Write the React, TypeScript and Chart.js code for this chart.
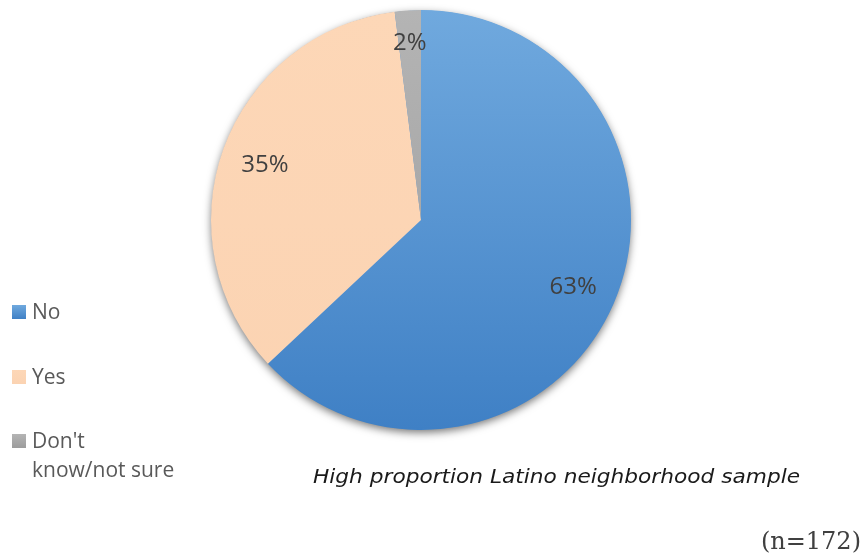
import React, { useEffect, useRef } from 'react';
import { Chart, registerables } from 'chart.js';

Chart.register(...registerables);

const categories = ['No', 'Yes', "Don't know/not sure"];
const values = [63, 35, 2];
const valueLabels = ['63%', '35%', '2%'];
const legendLines = [['No'], ['Yes'], ["Don't", 'know/not sure']];
const caption = 'High proportion Latino neighborhood sample';
const sampleNote = '(n=172)';

const topColors = ['#70a9de', '#fdd7b7', '#b4b4b4'];
const bottomColors = ['#3f80c5', '#fbd3b2', '#9c9c9c'];

function fillFor(chart: any, i: number) {
  const area = chart.chartArea;
  if (!area) return topColors[i];
  const g = chart.ctx.createLinearGradient(0, area.top, 0, area.bottom);
  g.addColorStop(0, topColors[i]);
  g.addColorStop(1, bottomColors[i]);
  return g;
}

const shadowPlugin = {
  id: 'pieShadow',
  beforeDatasetsDraw(chart: any) {
    const meta = chart.getDatasetMeta(0);
    const arc = meta.data[0];
    if (!arc) return;
    const { x, y, outerRadius } = arc.getProps(['x', 'y', 'outerRadius'], true);
    const ctx = chart.ctx;
    ctx.save();
    ctx.shadowColor = 'rgba(0,0,0,0.55)';
    ctx.shadowBlur = 8;
    ctx.shadowOffsetX = 0;
    ctx.shadowOffsetY = 3;
    ctx.beginPath();
    ctx.arc(x, y, outerRadius - 0.5, 0, Math.PI * 2);
    ctx.fillStyle = '#5a97d6';
    ctx.fill();
    ctx.restore();
  },
};

const labelFractions = [0.79, 0.79, 0.85];

function fitText(ctx: any, text: string, x: number, y: number, target: number) {
  const w = ctx.measureText(text).width;
  ctx.save();
  ctx.translate(x, y);
  ctx.scale(target / w, 1);
  ctx.fillText(text, 0, 0);
  ctx.restore();
}

const decorPlugin = {
  id: 'decor',
  afterDraw(chart: any) {
    const ctx = chart.ctx;
    const meta = chart.getDatasetMeta(0);
    ctx.save();
    // value labels
    ctx.font = '24px "Open Sans"';
    ctx.fillStyle = '#404040';
    ctx.textAlign = 'center';
    ctx.textBaseline = 'middle';
    meta.data.forEach((arc: any, i: number) => {
      const p = arc.getProps(['x', 'y', 'startAngle', 'endAngle', 'outerRadius'], true);
      const mid = (p.startAngle + p.endAngle) / 2;
      const d = p.outerRadius * labelFractions[i];
      ctx.fillText(valueLabels[i], p.x + Math.cos(mid) * d, p.y + Math.sin(mid) * d + 1);
    });

    // legend
    const baselines = [319, 384, 448];
    ctx.textAlign = 'left';
    ctx.textBaseline = 'alphabetic';
    ctx.font = '21px "Open Sans"';
    categories.forEach((_c, i) => {
      const b = baselines[i];
      const g = ctx.createLinearGradient(0, b - 14, 0, b);
      g.addColorStop(0, topColors[i]);
      g.addColorStop(1, bottomColors[i]);
      ctx.fillStyle = g;
      ctx.fillRect(12, b - 14, 14, 14);
      ctx.fillStyle = '#595959';
      legendLines[i].forEach((line, j) => {
        ctx.fillText(line, 32, b + j * 29);
      });
    });

    // caption
    ctx.font = 'italic 19px "DejaVu Sans"';
    ctx.fillStyle = '#1a1a1a';
    fitText(ctx, caption, 313, 483, 487);

    // n note
    ctx.font = '24px "DejaVu Serif"';
    ctx.fillStyle = '#404040';
    ctx.textAlign = 'right';
    ctx.fillText(sampleNote, 861, 549);
    ctx.restore();
  },
};

export default function App() {
  const ref = useRef<HTMLCanvasElement | null>(null);
  useEffect(() => {
    if (!ref.current) return;
    const chart = new Chart(ref.current, {
      type: 'pie',
      data: {
        labels: categories,
        datasets: [
          {
            data: values,
            backgroundColor: (c: any) => fillFor(c.chart, c.dataIndex),
            borderWidth: 0,
          },
        ],
      },
      options: {
        animation: false,
        responsive: false,
        layout: { padding: { top: 10, bottom: 130, left: 211, right: 234 } },
        plugins: {
          legend: { display: false },
          tooltip: { enabled: false },
        },
      },
      plugins: [shadowPlugin, decorPlugin],
    });
    return () => chart.destroy();
  }, []);
  return (
    <div style={{ position: 'absolute', left: 0, top: 0, width: 865, height: 560, background: '#fff' }}>
      <canvas ref={ref} width={865} height={560} style={{ width: 865, height: 560 }} />
    </div>
  );
}
